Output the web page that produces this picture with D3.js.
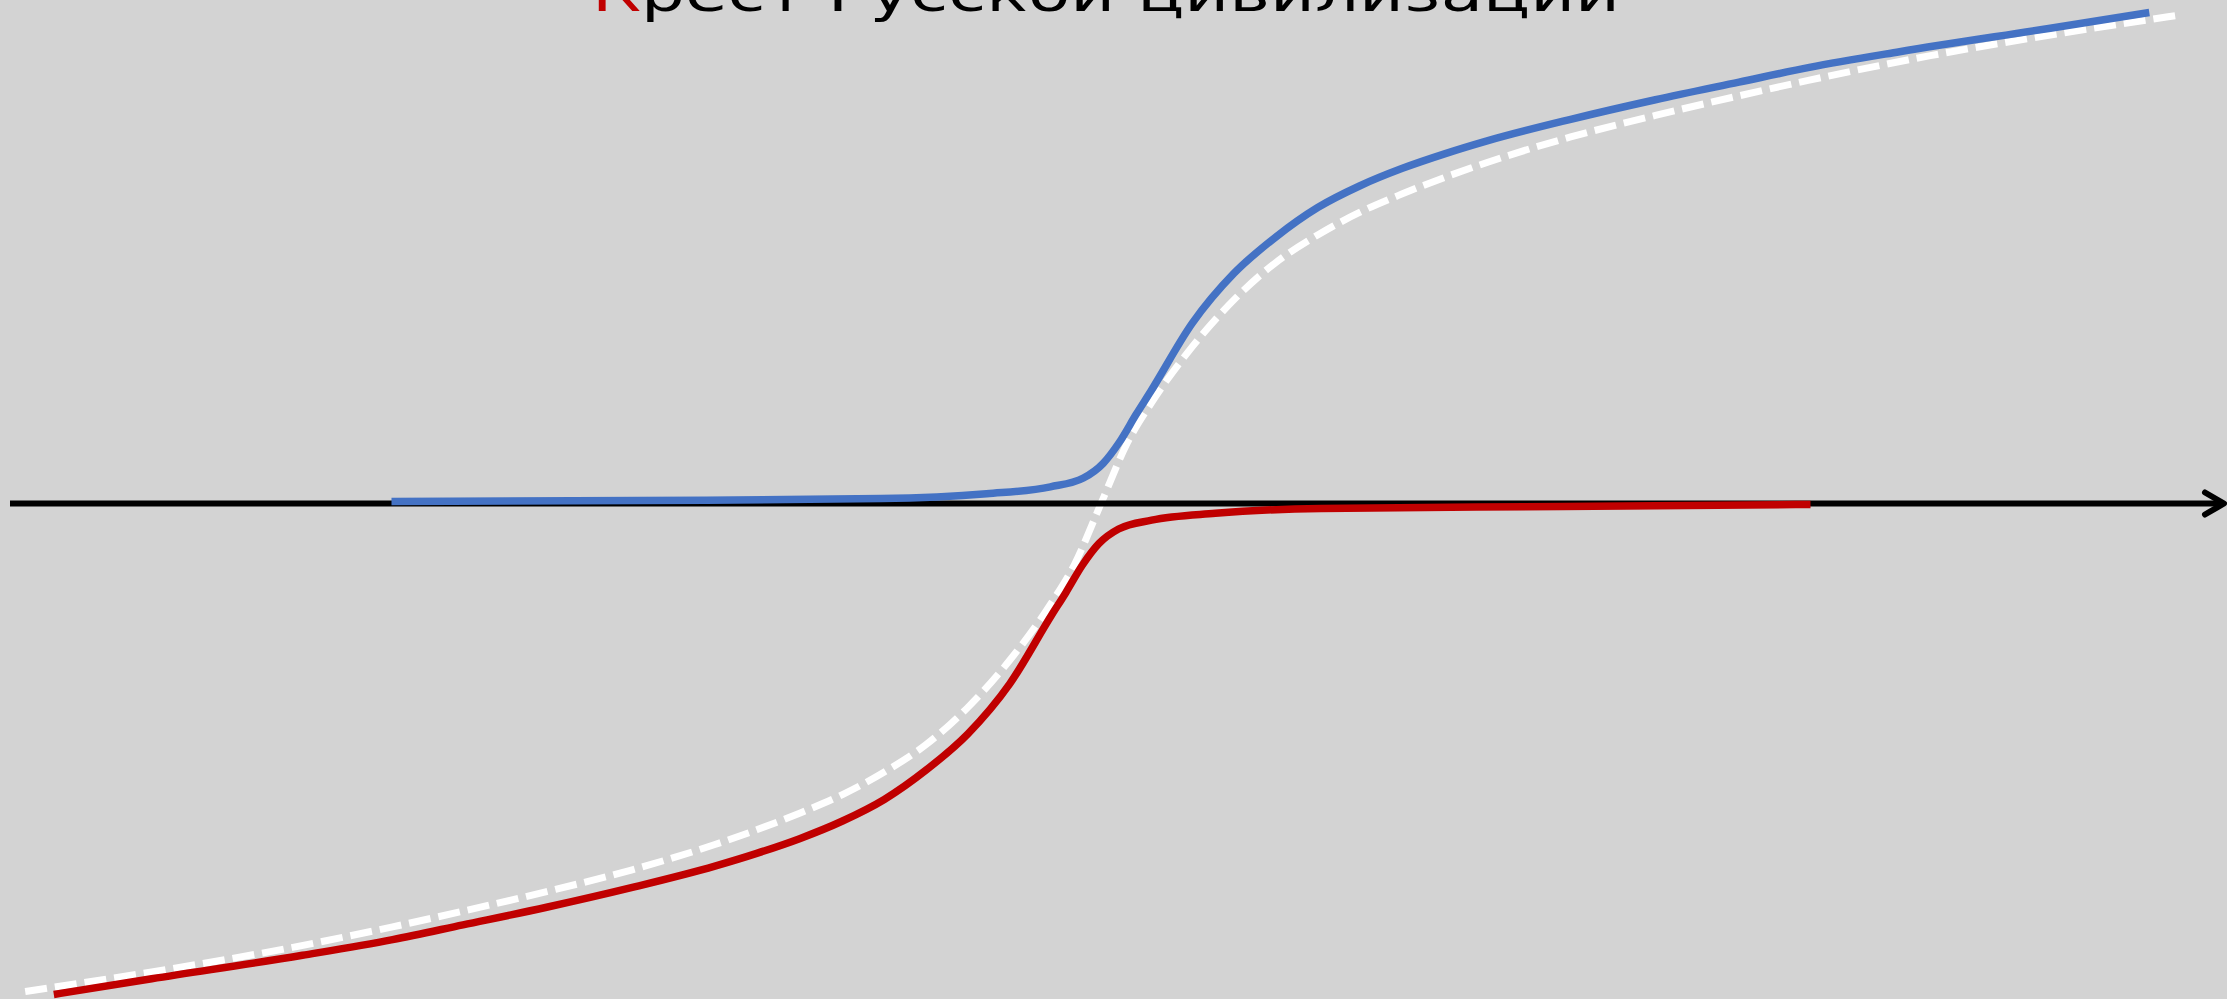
<!DOCTYPE html>
<html>
<head>
<meta charset="utf-8">
<script src="https://cdn.jsdelivr.net/npm/d3@7"></script>
<style>
    html, body { margin: 0; padding: 0; background: #d3d3d3; overflow: hidden; }
</style>
</head>
<body>
<svg id="chart"></svg>
<script>
// Title, first letter is painted red
const titleFirst = 'К';
const titleRest = 'рест Русской цивилизации';

// Upper (blue) branch
const blueX = [-64.5, -42, -20, -10.4, -4.6, -1.6, 0.2, 1.7, 3.2, 4.5, 8.3, 12.1, 15.9, 19.7,
    23.5, 27.4, 31.3, 35.1, 42.7, 50.4, 58, 64.4, 72.6, 86.3, 95.3];
const blueY = [0.2, 0.3, 0.5, 1.0, 1.7, 2.6, 4.1, 6.3, 9.1, 11.4, 18.4, 23.5, 27.2, 30.2,
    32.4, 34.2, 35.7, 37.0, 39.2, 41.2, 43.0, 44.5, 46.1, 48.5, 50.1];

// Lower (red) branch
const redX = [-95.2, -86.3, -72.6, -64.4, -58.0, -50.4, -42.7, -35.1, -31.3, -27.4, -23.5, -19.7,
    -15.9, -12.1, -8.3, -4.5, -3.2, -1.7, -0.2, 1.6, 4.6, 10.4, 20.0, 42.0, 64.5];
const redY = [-50.1, -48.5, -46.1, -44.5, -43.0, -41.2, -39.2, -37.0, -35.7, -34.2, -32.4, -30.2,
    -27.2, -23.5, -18.4, -11.4, -9.1, -6.3, -4.1, -2.6, -1.7, -1.0, -0.5, -0.3, -0.1];

// White dashed trend
const trendX = [-97.8, -86.3, -75.4, -64.4, -58.0, -50.4, -42.7, -35.1, -31.3, -27.4, -23.5, -19.7,
    -15.9, -12.1, -8.3, -4.6, -2.4, 0, 2.4, 4.6, 8.3, 12.1, 15.9, 19.7, 23.5, 27.4, 31.3, 35.1,
    42.7, 50.4, 58.0, 64.4, 75.4, 86.3, 97.8];
const trendY = [-49.8, -47.8, -45.7, -43.2, -41.6, -39.6, -37.4, -34.8, -33.3, -31.6, -29.7, -27.4,
    -24.6, -20.8, -16.0, -10.3, -6.2, 0, 6.2, 10.3, 16.0, 20.8, 24.6, 27.4, 29.7, 31.6, 33.3, 34.8,
    37.4, 39.6, 41.6, 43.2, 45.7, 47.8, 49.8];

const width = 2227;
const height = 999;

const svg = d3.select('#chart')
    .attr('width', width)
    .attr('height', height)
    .style('display', 'block');

svg.append('rect')
    .attr('width', width)
    .attr('height', height)
    .attr('fill', '#d3d3d3');

const xScale = d3.scaleLinear().domain([-100, 100]).range([1, 2201]);
const yScale = d3.scaleLinear().domain([-50, 50]).range([993.5, 13.5]);

const toPoints = (xs, ys) => xs.map((x, i) => ({ x, y: ys[i] }));

const line = d3.line()
    .x((d) => xScale(d.x))
    .y((d) => yScale(d.y))
    .curve(d3.curveMonotoneX);

// dashed trend goes first, under the axis
svg.append('path')
    .datum(toPoints(trendX, trendY))
    .attr('d', line)
    .attr('fill', 'none')
    .attr('stroke', '#ffffff')
    .attr('stroke-width', 7)
    .attr('stroke-dasharray', '22,8');

// horizontal axis with an open arrow head
const axisY = yScale(0);
const axisLeft = 10;
const tip = width - 3;

svg.append('line')
    .attr('x1', axisLeft)
    .attr('x2', tip - 2)
    .attr('y1', axisY)
    .attr('y2', axisY)
    .attr('stroke', '#000')
    .attr('stroke-width', 6);

svg.append('path')
    .attr('d', `M${tip - 19},${axisY - 11} L${tip},${axisY} L${tip - 19},${axisY + 11}`)
    .attr('fill', 'none')
    .attr('stroke', '#000')
    .attr('stroke-width', 6)
    .attr('stroke-linecap', 'round')
    .attr('stroke-linejoin', 'round');

svg.append('path')
    .datum(toPoints(blueX, blueY))
    .attr('d', line)
    .attr('fill', 'none')
    .attr('stroke', '#4472c4')
    .attr('stroke-width', 7.5);

svg.append('path')
    .datum(toPoints(redX, redY))
    .attr('d', line)
    .attr('fill', 'none')
    .attr('stroke', '#c00000')
    .attr('stroke-width', 7.5);

// title, mostly cut off by the top edge
const title = svg.append('text')
    .attr('x', 592)
    .attr('y', 10.5)
    .attr('font-family', 'DejaVu Sans')
    .attr('font-size', 52)
    .attr('textLength', 1028)
    .attr('lengthAdjust', 'spacingAndGlyphs')
    .attr('fill', '#000');

title.append('tspan').attr('fill', '#c00000').text(titleFirst);
title.append('tspan').text(titleRest);
</script>
</body>
</html>
